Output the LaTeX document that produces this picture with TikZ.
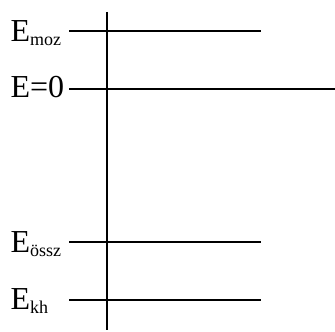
\documentclass[tikz,border=0pt]{standalone}
\usepackage{fontspec}
\setmainfont{Liberation Serif}
\usetikzlibrary{positioning}
\newcommand{\lvlsub}[1]{\raisebox{-4pt}{\fontsize{18}{18}\selectfont #1}}
\tikzset{
  every picture/.style={line width=1.1pt},
  level/.style={draw=black, line width=1.1pt},
  levelbold/.style={draw=black, line width=2.8pt},
  axis/.style={draw=black, line width=1.1pt},
  lbl/.style={font=\fontsize{32}{32}\selectfont, inner sep=0pt, anchor=base west},
}

\begin{document}
\begin{tikzpicture}[x=1pt, y=1pt]
  \useasboundingbox (0,0) rectangle (335,332);
  % energy axis
  \coordinate (top) at (107,320);
  \coordinate (bot) at (107,2);
  \draw[axis] (top) -- (bot);
  % level ends
  \coordinate (moz0) at (69,301);  \coordinate (moz1) at (261,301);
  \coordinate (nul0) at (69,243);  \coordinate (nul1) at (335,243);
  \coordinate (ossz0) at (69,90);  \coordinate (ossz1) at (261,90);
  \coordinate (kh0) at (69,32);    \coordinate (kh1) at (261,32);
  \draw[level] (moz0) -- (moz1);
  \draw[level] (nul0) -- (nul1);
  \draw[levelbold] (ossz0) -- (ossz1);
  \draw[level] (kh0) -- (kh1);
  % labels, left aligned
  \node[lbl] (lmoz) at (10,290) {E\lvlsub{moz}};
  \node[lbl] (lnul) at (10,234) {E=0};
  \node[lbl] (lossz) at (10,79) {E\lvlsub{össz}};
  \node[lbl] (lkh) at (10,22) {E\lvlsub{kh}};
\end{tikzpicture}
\end{document}
